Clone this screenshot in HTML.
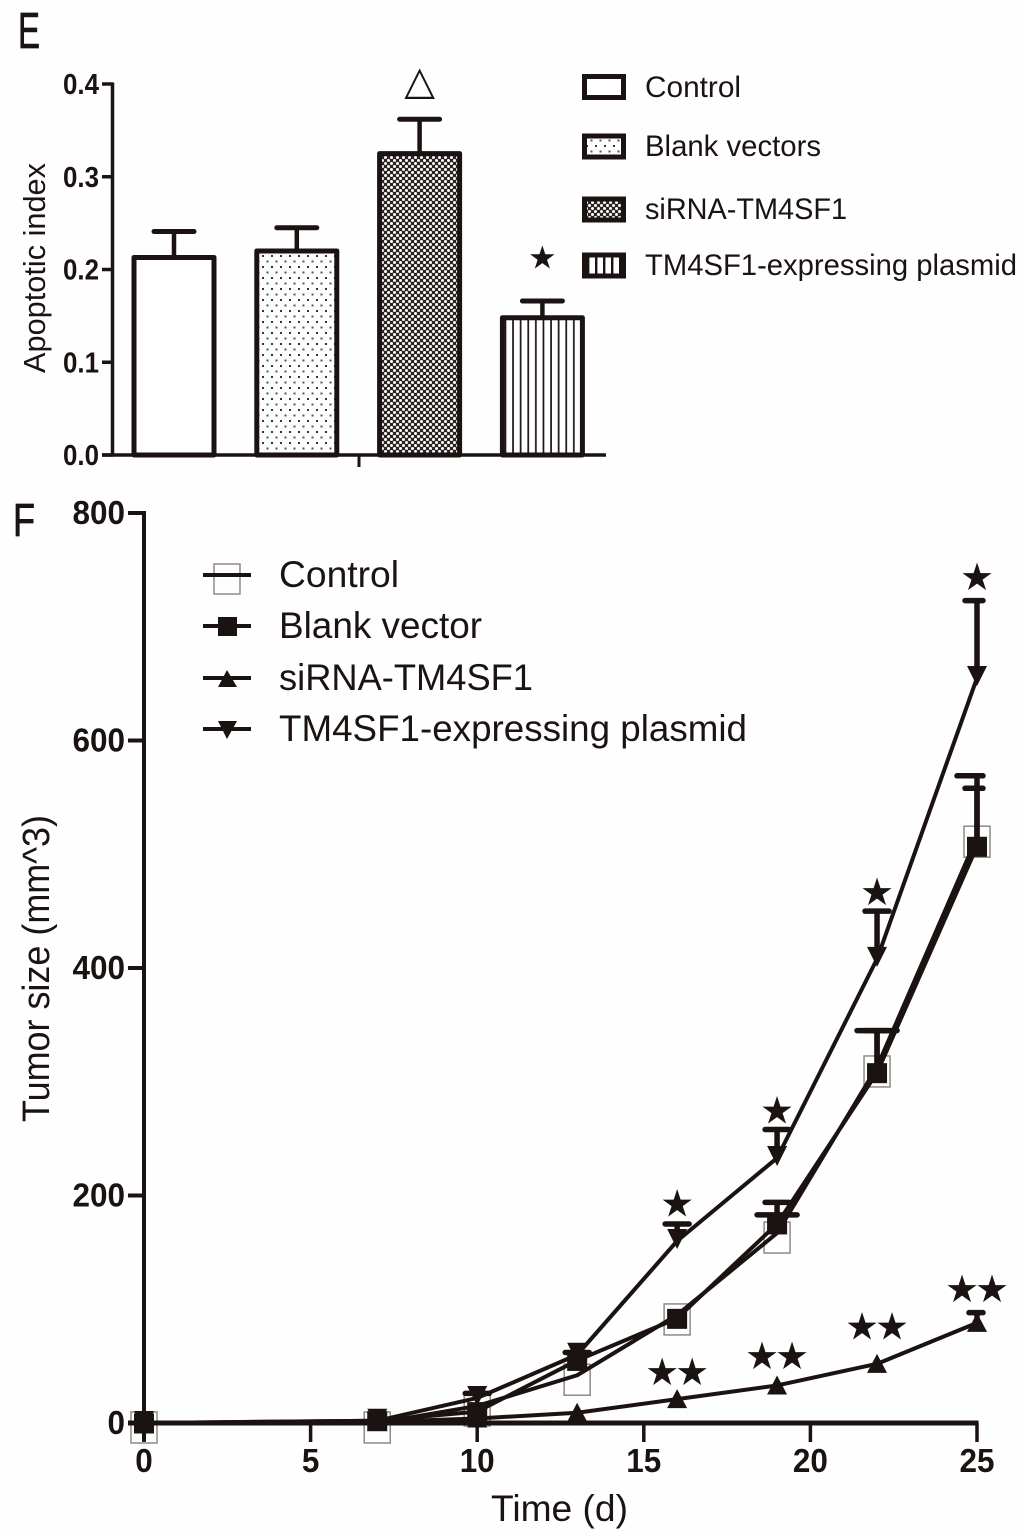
<!DOCTYPE html>
<html lang="en">
<head>
<meta charset="utf-8">
<title>Apoptotic index and tumor size</title>
<style>
html,body{margin:0;padding:0;background:#fefefe;}
svg{display:block;}
text{font-family:"Liberation Sans",sans-serif;fill:#1a1311;}
</style>
</head>
<body>
<svg id="fig" xmlns="http://www.w3.org/2000/svg" width="1024" height="1536" viewBox="0 0 1024 1536">
  <defs>
    <pattern id="pat-dots" width="9" height="11" patternUnits="userSpaceOnUse">
      <rect x="1" y="2" width="2" height="2" fill="#333"/>
      <rect x="5.5" y="7.5" width="2" height="2" fill="#555"/>
    </pattern>
    <pattern id="pat-check" width="6" height="6" patternUnits="userSpaceOnUse">
      <rect width="6" height="6" fill="#2a2422"/>
      <circle cx="1.5" cy="1.5" r="1.5" fill="#fff"/>
      <circle cx="4.5" cy="4.5" r="1.5" fill="#fff"/>
    </pattern>
    <pattern id="pat-lines" width="7.6" height="10" patternUnits="userSpaceOnUse">
      <rect x="3" y="0" width="1.7" height="10" fill="#1a1311"/>
    </pattern>
    <pattern id="pat-lines-legend" width="8" height="10" patternUnits="userSpaceOnUse">
      <rect x="3" y="0" width="2.4" height="10" fill="#1a1311"/>
    </pattern>
  </defs>

  <text x="18" y="48" font-size="51" textLength="22" lengthAdjust="spacingAndGlyphs" stroke="#1a1311" stroke-width="0.8">E</text>
  <text x="13" y="536" font-size="46" textLength="22" lengthAdjust="spacingAndGlyphs" stroke="#1a1311" stroke-width="0.8">F</text>

  <g id="chart-e"></g>
  <text transform="translate(45,373) rotate(-90)" font-size="31" textLength="210" lengthAdjust="spacingAndGlyphs">Apoptotic index</text>

  <g>
    <rect x="584.5" y="76.5" width="39" height="21" fill="#fff" stroke="#1a1311" stroke-width="5"/>
    <text x="645" y="97" font-size="30" textLength="96" lengthAdjust="spacingAndGlyphs">Control</text>
    <rect x="584.5" y="136" width="39" height="21" fill="url(#pat-dots)" stroke="#1a1311" stroke-width="5"/>
    <text x="645" y="156" font-size="30" textLength="176" lengthAdjust="spacingAndGlyphs">Blank vectors</text>
    <rect x="584.5" y="199" width="39" height="21" fill="url(#pat-check)" stroke="#1a1311" stroke-width="5"/>
    <text x="645" y="219" font-size="30" textLength="202" lengthAdjust="spacingAndGlyphs">siRNA-TM4SF1</text>
    <rect x="584.5" y="255" width="39" height="21" fill="url(#pat-lines-legend)" stroke="#1a1311" stroke-width="5"/>
    <text x="645" y="275" font-size="30" textLength="372" lengthAdjust="spacingAndGlyphs">TM4SF1-expressing plasmid</text>
  </g>

  <g id="chart-f"></g>
  <text transform="translate(49,1122) rotate(-90)" font-size="38" textLength="307" lengthAdjust="spacingAndGlyphs">Tumor size (mm^3)</text>
  <text x="491" y="1521" font-size="37" textLength="137" lengthAdjust="spacingAndGlyphs">Time (d)</text>

  <g>
    <rect x="214" y="564" width="26" height="30" fill="none" stroke="#8d8a86" stroke-width="1.5"/>
    <line x1="203" x2="251" y1="575" y2="575" stroke="#1a1311" stroke-width="4"/>
    <text x="279" y="587" font-size="37" textLength="120" lengthAdjust="spacingAndGlyphs">Control</text>
    <line x1="203" x2="251" y1="626" y2="626" stroke="#1a1311" stroke-width="4"/>
    <rect x="218" y="617" width="19" height="19" fill="#1a1311"/>
    <text x="279" y="638" font-size="37" textLength="203" lengthAdjust="spacingAndGlyphs">Blank vector</text>
    <line x1="203" x2="251" y1="678" y2="678" stroke="#1a1311" stroke-width="4"/>
    <polygon points="227,670 218,687 237,687" fill="#1a1311"/>
    <text x="279" y="690" font-size="37" textLength="254" lengthAdjust="spacingAndGlyphs">siRNA-TM4SF1</text>
    <line x1="203" x2="251" y1="729" y2="729" stroke="#1a1311" stroke-width="4"/>
    <polygon points="218,721 237,721 227,739" fill="#1a1311"/>
    <text x="279" y="741" font-size="37" textLength="468" lengthAdjust="spacingAndGlyphs">TM4SF1-expressing plasmid</text>
  </g>
</svg>

<script>
/* Panel E data */
var barCategories = ['Control', 'Blank vectors', 'siRNA-TM4SF1', 'TM4SF1-expressing plasmid'];
var barValues = [0.213, 0.220, 0.325, 0.148];
var barErrorTops = [0.241, 0.245, 0.362, 0.166];
var barTicks = [0.0, 0.1, 0.2, 0.3, 0.4];
var barMarks = ['', '', '\u25B3', '\u2605'];
var barMarkValues = [0, 0, 0.4, 0.212];

/* Panel F data */
var days = [0, 7, 10, 13, 16, 19, 22, 25];
var controlValues = [0, 0, 15, 42, 95, 167, 313, 515];
var blankValues = [0, 2, 10, 55, 92, 175, 308, 507];
var sirnaValues = [0, 1, 4, 9, 21, 33, 52, 88];
var plasmidValues = [0, 2, 22, 60, 160, 233, 408, 655];
var controlErrors = [0, 0, 15, 42, 95, 194, 345, 558];
var blankErrors = [0, 2, 10, 55, 92, 183, 345, 569];
var sirnaErrors = [0, 1, 4, 9, 21, 33, 52, 97];
var plasmidErrors = [0, 2, 26, 62, 175, 258, 450, 723];
var yTicksF = [0, 200, 400, 600, 800];
var xTicksF = [0, 5, 10, 15, 20, 25];
var singleStarDays = [16, 19, 22, 25];
var singleStarValues = [192, 274, 466, 743];
var doubleStarDays = [16, 19, 22, 25];
var doubleStarValues = [44, 58, 84, 117];

var INK = '#1a1311';
var NS = 'http://www.w3.org/2000/svg';

function make(parent, tag, attrs, txt) {
  var el = document.createElementNS(NS, tag);
  for (var k in attrs) el.setAttribute(k, attrs[k]);
  if (txt !== undefined) el.textContent = txt;
  parent.appendChild(el);
  return el;
}

/* Panel E axes */
function yE(v) { return 455 - v * 927.5; }
function xE(i) { return 174 + i * 122.8; }
var barFills = ['#fff', 'url(#pat-dots)', 'url(#pat-check)', 'url(#pat-lines)'];
var gE = document.getElementById('chart-e');

barValues.forEach(function (v, i) {
  var cx = xE(i);
  var stem = make(gE, 'line', {x1: cx, x2: cx, y1: yE(v), y2: yE(barErrorTops[i]), stroke: INK, 'stroke-width': 4.5});
  
  
  var cap = make(gE, 'line', {x1: cx - 20, x2: cx + 20, y1: yE(barErrorTops[i]), y2: yE(barErrorTops[i]), stroke: INK, 'stroke-width': 5, 'stroke-linecap': 'round'});
  
  
  var bar = make(gE, 'rect', {x: cx - 40, y: yE(v), width: 80, height: 455 - yE(v), fill: barFills[i], stroke: INK, 'stroke-width': 5, 'stroke-linejoin': 'round'});
  
  
  if (barMarks[i]) {
    var mark = make(gE, 'text', {x: cx, y: yE(barMarkValues[i]) + 10, 'text-anchor': 'middle', 'font-size': barMarks[i] === '\u2605' ? 32 : 40, style: 'font-family:"DejaVu Sans",sans-serif'}, barMarks[i]);
    
    
  }
});

var yAxisE = make(gE, 'line', {x1: 112.5, x2: 112.5, y1: yE(0.4) - 1.5, y2: 456.5, stroke: INK, 'stroke-width': 3.5});


var xAxisE = make(gE, 'line', {x1: 102, x2: 606, y1: 455, y2: 455, stroke: INK, 'stroke-width': 3.5});


var xTickE = make(gE, 'line', {x1: 359, x2: 359, y1: 455, y2: 467, stroke: INK, 'stroke-width': 3});



barTicks.forEach(function (t) {
  var tick = make(gE, 'line', {x1: 102, x2: 113, y1: yE(t), y2: yE(t), stroke: INK, 'stroke-width': 3.5});
  
  
  var lab = make(gE, 'text', {x: 99, y: yE(t) + 10, 'text-anchor': 'end', 'font-size': 29, 'font-weight': 'bold', textLength: 36, lengthAdjust: 'spacingAndGlyphs'}, t.toFixed(1));
  
  
});

/* Panel F axes */
function xF(d) { return 144 + d * 33.32; }
function yF(v) { return 1423 - v * 1.1375; }
var gF = document.getElementById('chart-f');
var CAP_LIMIT = xF(25) + 6;

function drawSeries(name, values, errors, capHalf, lineW) {
  var pts = values.map(function (v, i) { return xF(days[i]) + ',' + yF(v); }).join(' ');
  values.forEach(function (v, i) {
    if (errors[i] <= v) return;
    var cx = xF(days[i]);
    var stem = make(gF, 'line', {x1: cx, x2: cx, y1: yF(v), y2: yF(errors[i]), stroke: INK, 'stroke-width': 5.5});
    
    
    var cap = make(gF, 'line', {x1: cx - capHalf, x2: Math.min(cx + capHalf, CAP_LIMIT), y1: yF(errors[i]), y2: yF(errors[i]), stroke: INK, 'stroke-width': 5.5, 'stroke-linecap': 'round'});
    
    
  });
  var line = make(gF, 'polyline', {points: pts, fill: 'none', stroke: INK, 'stroke-width': lineW, 'stroke-linejoin': 'round'});
  
  
}

/* control squares sit under everything else */
controlValues.forEach(function (v, i) {
  var sq = make(gF, 'rect', {x: xF(days[i]) - 13, y: yF(v) - 11, width: 26, height: 31, fill: '#fefefe', stroke: '#8d8a86', 'stroke-width': 1.5});
  
  
});

drawSeries('control', controlValues, controlErrors, 12, 4);
drawSeries('blank-vector', blankValues, blankErrors, 20, 4);
drawSeries('sirna', sirnaValues, sirnaErrors, 8, 4);
drawSeries('plasmid', plasmidValues, plasmidErrors, 12, 4);

blankValues.forEach(function (v, i) {
  var p = make(gF, 'rect', {x: xF(days[i]) - 10, y: yF(v) - 9.5, width: 20, height: 20, fill: INK});
  
  
});
sirnaValues.forEach(function (v, i) {
  var x = xF(days[i]), y = yF(v);
  var p = make(gF, 'polygon', {points: x + ',' + (y - 10) + ' ' + (x - 10) + ',' + (y + 9) + ' ' + (x + 10) + ',' + (y + 9), fill: INK});
  
  
});
plasmidValues.forEach(function (v, i) {
  var x = xF(days[i]), y = yF(v);
  var p = make(gF, 'polygon', {points: (x - 10) + ',' + (y - 12) + ' ' + (x + 10) + ',' + (y - 12) + ' ' + x + ',' + (y + 8), fill: INK});
  
  
});

var yAxisF = make(gF, 'line', {x1: 144, x2: 144, y1: yF(800) - 2, y2: 1441, stroke: INK, 'stroke-width': 4});


var xAxisF = make(gF, 'line', {x1: 128, x2: xF(25) + 1.5, y1: 1423, y2: 1423, stroke: INK, 'stroke-width': 5});



yTicksF.forEach(function (t) {
  var tick = make(gF, 'line', {x1: 128, x2: 144, y1: yF(t), y2: yF(t), stroke: INK, 'stroke-width': 4});
  
  
  var txt = String(t);
  var lab = make(gF, 'text', {x: 125, y: yF(t) + 11, 'text-anchor': 'end', 'font-size': 33, 'font-weight': 'bold', textLength: txt.length * 17.5, lengthAdjust: 'spacingAndGlyphs'}, txt);
  
  
});
xTicksF.forEach(function (t) {
  var tick = make(gF, 'line', {x1: xF(t), x2: xF(t), y1: 1423, y2: 1442, stroke: INK, 'stroke-width': 3.5});
  
  
  var txt = String(t);
  var lab = make(gF, 'text', {x: xF(t), y: 1472, 'text-anchor': 'middle', 'font-size': 33, 'font-weight': 'bold', textLength: txt.length * 17.5, lengthAdjust: 'spacingAndGlyphs'}, txt);
  
  
});

function star(x, y) {
  var s = make(gF, 'text', {x: x, y: y + 12, 'text-anchor': 'middle', 'font-size': 38, style: 'font-family:"DejaVu Sans",sans-serif'}, '\u2605');
  
  
}
singleStarDays.forEach(function (d, i) {
  star(xF(d), yF(singleStarValues[i]));
});
doubleStarDays.forEach(function (d, i) {
  star(xF(d) - 15, yF(doubleStarValues[i]));
  star(xF(d) + 15, yF(doubleStarValues[i]));
});
</script>
</body>
</html>
